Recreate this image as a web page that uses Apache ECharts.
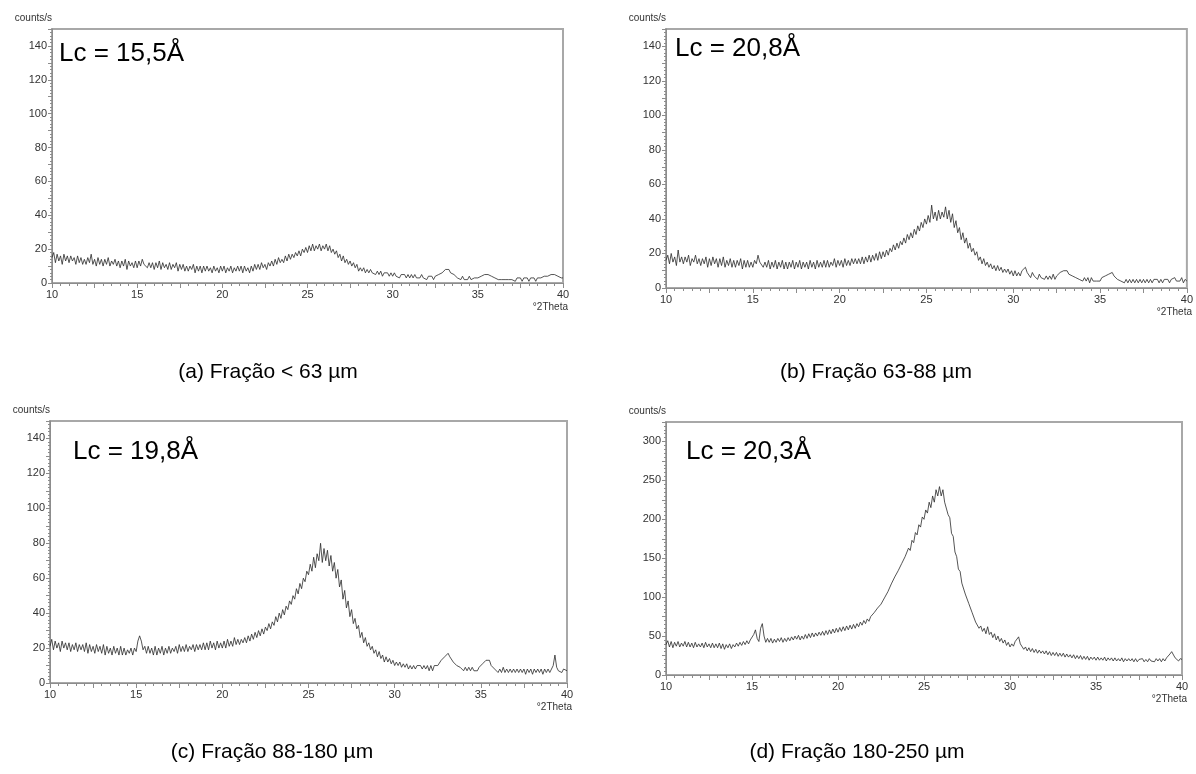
<!DOCTYPE html>
<html><head><meta charset="utf-8">
<script src="https://cdn.jsdelivr.net/npm/echarts@6/dist/echarts.min.js"></script>
<style>html,body{margin:0;padding:0;background:#fff}#c{width:1196px;height:774px}</style>
</head><body><div id="c"></div>
<script>
// 2θ sampling: 10.0 to 40.0 °2Theta, step 0.1
const thetaStart = 10, thetaStep = 0.1;
const xTickLabels = [10, 15, 20, 25, 30, 35, 40];
const panelTitles = ['(a) Fração < 63 µm', '(b) Fração 63-88 µm', '(c) Fração 88-180 µm', '(d) Fração 180-250 µm'];
const lcLabels = ['Lc = 15,5Å', 'Lc = 20,8Å', 'Lc = 19,8Å', 'Lc = 20,3Å'];
const yMax = [150, 150, 150, 325];

const countsA = [
15,18,12,17,13,16,11,17,13,16,
12,16,13,15,11,16,12,15,11,14,
11,15,12,17,11,14,10,15,11,14,
10,14,11,15,10,13,11,14,10,13,
9,13,10,14,8,13,10,12,9,13,
9,13,10,14,11,12,9,12,9,12,
8,12,9,13,8,12,9,11,8,12,
8,11,9,12,7,11,8,11,7,10,
7,10,8,11,6,10,7,10,6,10,
7,10,7,9,6,10,7,9,6,10,
7,10,6,9,7,10,6,9,7,10,
7,10,6,10,7,9,6,10,7,11,
8,11,8,12,9,11,8,12,10,13,
10,14,11,15,12,14,12,16,13,17,
14,17,15,18,16,19,16,20,18,21,
18,22,19,23,19,22,20,23,19,22,
20,23,19,22,18,20,17,19,15,17,
13,16,12,14,11,13,10,12,9,11,
7,9,7,9,6,8,6,8,6,7,
5,7,5,7,4,6,5,6,4,6,
4,6,4,5,3,5,4,5,3,5,
3,5,3,5,3,4,3,5,3,4,
2,4,3,4,2,4,3,5,4,6,
6,8,7,8,6,7,5,5,3,4,
2,4,2,3,2,4,2,3,3,4,
3,4,4,5,5,6,5,5,4,4,
3,4,2,3,2,3,2,3,2,3,
2,3,1,3,2,3,1,3,2,3,
1,3,2,3,1,3,2,3,2,4,
3,4,3,5,4,5,4,4,3,3,
3];

const countsB = [
16,19,14,20,15,18,13,22,15,18,
14,18,15,19,13,17,15,19,14,17,
13,17,14,18,12,17,13,18,14,17,
12,17,13,18,12,16,13,17,12,16,
12,16,13,17,11,16,12,16,12,15,
12,16,14,19,15,16,12,15,12,16,
11,15,12,16,11,15,12,16,11,15,
11,15,12,16,11,15,12,16,11,15,
12,15,11,16,12,15,11,16,12,15,
12,16,12,16,12,15,13,17,12,16,
13,16,12,17,13,16,13,17,14,17,
14,17,14,18,14,18,15,19,15,19,
16,20,16,21,17,21,18,22,19,23,
21,25,22,26,23,27,25,29,26,31,
28,32,29,34,31,36,33,38,35,40,
37,42,38,48,40,44,39,45,40,44,
41,47,40,45,38,43,35,39,32,35,
28,32,26,29,23,26,21,23,19,21,
16,18,14,17,13,15,12,14,11,13,
10,13,10,12,9,11,9,11,8,10,
7,10,7,9,7,10,9,12,9,8,
6,9,7,8,5,8,6,7,5,7,
5,7,5,8,5,7,7,9,8,10,
9,10,8,9,7,8,6,7,5,6,
4,6,4,6,3,6,4,5,4,5,
4,6,5,7,6,8,8,9,7,8,
5,6,4,5,3,5,3,5,3,5,
3,5,3,5,3,5,3,5,3,5,
3,5,4,5,3,5,3,5,4,5,
3,5,4,6,4,5,4,6,3,5,
4];

const countsC = [
21,25,19,24,20,23,18,24,20,23,
19,23,18,22,19,23,18,22,19,22,
18,23,17,22,18,21,17,22,18,21,
17,22,16,21,17,20,16,21,17,20,
16,21,16,20,16,19,17,20,16,20,
18,24,27,24,19,21,17,21,17,20,
16,21,16,20,17,21,16,20,17,21,
17,20,18,21,17,22,18,21,18,22,
18,21,19,22,18,22,19,22,19,23,
19,23,19,24,20,23,19,24,20,23,
20,24,20,25,21,24,21,26,22,25,
22,25,23,26,23,27,24,28,25,29,
26,30,27,31,28,32,30,34,31,35,
33,38,35,40,37,42,39,44,42,47,
45,50,48,54,51,57,54,60,58,64,
62,68,64,72,66,74,70,80,69,77,
70,76,67,73,64,69,60,65,55,59,
48,53,43,47,38,42,34,37,31,33,
26,29,23,26,21,23,19,21,17,19,
15,18,14,16,12,15,12,14,11,13,
10,12,10,12,9,11,9,11,8,10,
8,10,8,10,9,10,8,10,8,10,
7,10,7,10,9,10,11,13,12,15,
14,17,15,16,12,13,10,11,9,10,
7,9,7,9,7,9,7,8,7,9,
9,11,11,13,12,13,10,11,8,9,
6,8,6,9,6,8,6,8,6,8,
6,8,6,8,6,8,5,8,6,8,
5,8,6,8,6,8,5,8,6,8,
6,8,10,16,9,7,8,6,8,7,
7];

const countsD = [
39,44,36,43,35,42,37,43,36,41,
37,43,36,42,36,41,35,42,36,40,
36,41,35,42,36,40,35,41,35,40,
35,41,34,40,33,39,35,40,34,39,
36,41,37,42,38,43,39,44,40,45,
43,52,58,47,43,60,66,50,42,47,
42,47,41,46,42,47,43,48,42,47,
43,48,44,49,45,50,46,51,45,50,
46,52,47,53,48,54,49,54,50,55,
51,56,51,57,52,58,53,59,54,60,
55,61,56,62,57,63,58,64,59,65,
60,66,62,68,64,70,66,72,69,75,
74,80,79,86,85,91,92,99,99,107,
108,117,116,126,124,134,132,143,141,152,
150,163,160,173,170,183,180,193,190,203,
200,212,208,222,215,230,222,238,230,242,
230,238,222,222,206,202,182,178,158,152,
136,133,118,118,104,103,92,92,80,78,
68,68,60,63,56,60,53,62,52,55,
48,53,45,50,43,47,41,45,38,42,
36,40,37,43,44,49,40,39,33,36,
31,35,30,34,29,33,28,32,28,31,
27,31,26,30,25,29,25,29,24,28,
24,28,23,27,23,26,22,26,21,25,
21,25,20,24,20,24,19,23,20,23,
19,23,19,22,19,23,18,22,19,22,
18,22,18,21,18,22,17,21,18,21,
18,21,17,21,17,20,18,21,17,20,
17,21,18,20,17,21,18,21,17,21,
18,22,21,27,30,28,22,21,18,21,
20];

const allCounts = [countsA, countsB, countsC, countsD];

// layout (pixels)
const grids = [
  {left: 52, top: 29, width: 511, height: 254},
  {left: 666, top: 29, width: 521, height: 259},
  {left: 50, top: 421, width: 517, height: 262},
  {left: 666, top: 422, width: 516, height: 253}
];

const axisColor = '#8c8c8c';
const font = 'Liberation Sans, Arial, sans-serif';

const chart = echarts.init(document.getElementById('c'), null, {renderer: 'canvas'});

const xAxes = grids.map((g, i) => ({
  gridIndex: i, type: 'value', min: 10, max: 40, interval: 2.5,
  axisLine: {show: true, onZero: false, lineStyle: {color: axisColor, width: 1}},
  axisTick: {show: true, length: 5, lineStyle: {color: axisColor}},
  minorTick: {show: true, splitNumber: 5, length: 3, lineStyle: {color: axisColor}},
  axisLabel: {color: '#333', fontSize: 11, fontFamily: font, margin: 6,
    formatter: v => (xTickLabels.indexOf(v) >= 0 ? String(v) : '')},
  splitLine: {show: false}, minorSplitLine: {show: false}
}));

const yAxes = grids.map((g, i) => {
  const big = yMax[i] > 200;
  return {
    gridIndex: i, type: 'value', min: 0, max: yMax[i], interval: big ? 25 : 10,
    axisLine: {show: true, lineStyle: {color: axisColor, width: 1}},
    axisTick: {show: true, length: 4, lineStyle: {color: axisColor}},
    minorTick: {show: true, splitNumber: 5, length: 2, lineStyle: {color: axisColor}},
    axisLabel: {color: '#333', fontSize: 11, fontFamily: font, margin: 5,
      formatter: v => {
        if (big) return (v % 50 === 0 && v <= 300) ? String(v) : '';
        return (v % 20 === 0 && v <= 140) ? String(v) : '';
      }},
    splitLine: {show: false}, minorSplitLine: {show: false}
  };
});

const series = allCounts.map((arr, i) => ({
  type: 'line', xAxisIndex: i, yAxisIndex: i, symbol: 'none', silent: true,
  lineStyle: {color: '#2a2a2a', width: 0.8},
  data: arr.map((v, k) => [Math.round((thetaStart + k * thetaStep) * 10) / 10, v])
}));

// text positions
const lcPos = [[59, 53.5], [675, 48.5], [73, 451.7], [686, 451.7]];
const capPos = [[268, 372], [876, 372], [272, 752], [857, 752]];

const graphics = [];
grids.forEach((g, i) => {
  graphics.push({type: 'text', x: g.left, y: g.top - 11,
    style: {text: 'counts/s', fill: '#333', font: '10px ' + font, textAlign: 'right', textVerticalAlign: 'middle'}});
  graphics.push({type: 'text', x: g.left + g.width + 5, y: g.top + g.height + 24,
    style: {text: '°2Theta', fill: '#333', font: '10px ' + font, textAlign: 'right', textVerticalAlign: 'middle'}});
  graphics.push({type: 'text', x: lcPos[i][0], y: lcPos[i][1],
    style: {text: lcLabels[i], fill: '#000', font: '26px ' + font, textAlign: 'left', textVerticalAlign: 'middle'}});
  graphics.push({type: 'text', x: capPos[i][0], y: capPos[i][1],
    style: {text: panelTitles[i], fill: '#000', font: '21px ' + font, textAlign: 'center', textVerticalAlign: 'middle'}});
});

chart.setOption({
  animation: false,
  backgroundColor: '#fff',
  grid: grids.map(g => Object.assign({show: true, borderColor: '#a8a8a8', borderWidth: 2, backgroundColor: '#fff'}, g)),
  xAxis: xAxes,
  yAxis: yAxes,
  series: series,
  graphic: graphics
});
</script>
</body></html>
